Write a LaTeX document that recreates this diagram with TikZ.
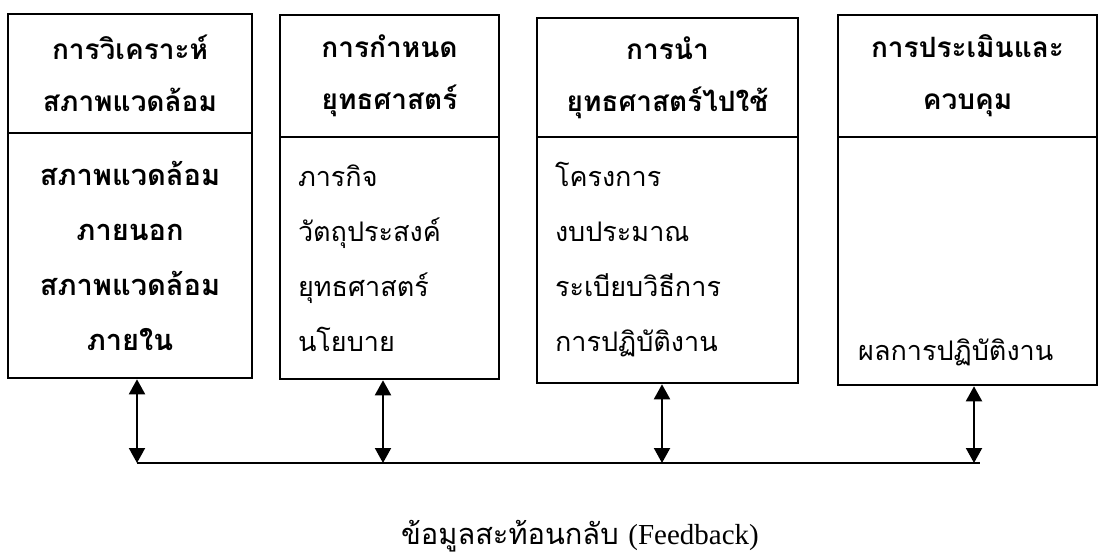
\documentclass[tikz,border=0pt]{standalone}
\usepackage{fontspec}
\setmainfont[Script=Thai]{Loma}
\newfontfamily\latinserif{Liberation Serif}
\usetikzlibrary{arrows.meta,positioning,calc}

\begin{document}
\begin{tikzpicture}[x=1pt,y=-1pt,>={Triangle[length=15pt,width=16pt]},
  hd/.style={rectangle,draw,line width=2.6pt,inner sep=0pt,align=center,font=\fontsize{28}{52}\selectfont\bfseries},
  bd/.style={rectangle,draw,line width=2.6pt,inner xsep=18pt,inner ysep=0pt,font=\fontsize{27}{55}\selectfont},
  fb/.style={<->,line width=2pt}]
\useasboundingbox (0,0) rectangle (1100,559);
% headers
\node[hd,minimum width=244pt,minimum height=119pt] (H1) at (130,73.5) {การวิเคราะห์\\สภาพแวดล้อม};
\node[hd,minimum width=219pt,minimum height=122pt] (H2) at (389.5,76) {การกำหนด\\ยุทธศาสตร์};
\node[hd,minimum width=261pt,minimum height=119pt] (H3) at (667.5,77.5) {การนำ\\ยุทธศาสตร์ไปใช้};
\node[hd,minimum width=259pt,minimum height=122pt] (H4) at (967.5,76) {การประเมินและ\\ควบคุม};
% bodies
\node[bd,minimum width=244pt,minimum height=245pt,align=center,font=\fontsize{29}{55}\selectfont\bfseries] (B1) at (130,255.5) {สภาพแวดล้อม\\ภายนอก\\สภาพแวดล้อม\\ภายใน};
\node[bd,minimum width=219pt,minimum height=242pt,text width=183pt,align=left] (B2) at (389.5,258) {ภารกิจ\\วัตถุประสงค์\\ยุทธศาสตร์\\นโยบาย};
\node[bd,minimum width=261pt,minimum height=246pt,text width=225pt,align=left] (B3) at (667.5,260) {โครงการ\\งบประมาณ\\ระเบียบวิธีการ\\การปฏิบัติงาน};
\node[bd,minimum width=259pt,minimum height=248pt] (B4) at (967.5,261) {};
\node[font=\fontsize{27}{55}\selectfont,anchor=west,inner sep=0pt] (R4) at (858,352) {ผลการปฏิบัติงาน};
% feedback line
\coordinate (F1) at (137,463);
\coordinate (F2) at (383,463);
\coordinate (F3) at (662,463);
\coordinate (F4) at (974,463);
\coordinate (E) at (980,463);
\draw[line width=2pt] (F1) -- (E);
\foreach \i in {1,2,3,4}{\draw[fb] (F\i |- B\i.south) -- (F\i);}
\node[font=\fontsize{29}{32}\selectfont] (FB) at (580,536) {ข้อมูลสะท้อนกลับ {\latinserif (Feedback)}};
\end{tikzpicture}
\end{document}
